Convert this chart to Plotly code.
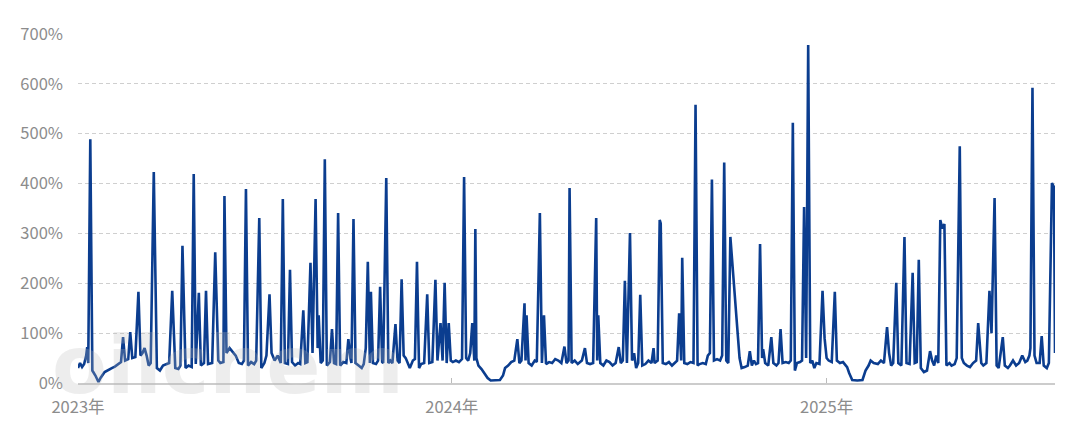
import plotly.graph_objects as go

dates = [
    # 2023
    "2023-01-01", "2023-01-03", "2023-01-05", "2023-01-07", "2023-01-09", "2023-01-10", "2023-01-11",
    "2023-01-13", "2023-01-15", "2023-01-18", "2023-01-21", "2023-01-23", "2023-01-27", "2023-01-30",
    "2023-02-03", "2023-02-06", "2023-02-09", "2023-02-12", "2023-02-14", "2023-02-16", "2023-02-19",
    "2023-02-21", "2023-02-23", "2023-02-26", "2023-03-01", "2023-03-03", "2023-03-05", "2023-03-07",
    "2023-03-09", "2023-03-11", "2023-03-13", "2023-03-16", "2023-03-19", "2023-03-22", "2023-03-25",
    "2023-03-28", "2023-03-31", "2023-04-03", "2023-04-06", "2023-04-09", "2023-04-11", "2023-04-13",
    "2023-04-16", "2023-04-19", "2023-04-22", "2023-04-24", "2023-04-26", "2023-04-29", "2023-05-01",
    "2023-05-04", "2023-05-06", "2023-05-08", "2023-05-12", "2023-05-15", "2023-05-18", "2023-05-20",
    "2023-05-23", "2023-05-24", "2023-05-26", "2023-05-29", "2023-06-01", "2023-06-04", "2023-06-07",
    "2023-06-10", "2023-06-12", "2023-06-14", "2023-06-16", "2023-06-19", "2023-06-22", "2023-06-24",
    "2023-06-27", "2023-06-29", "2023-07-02", "2023-07-04", "2023-07-07", "2023-07-09", "2023-07-12",
    "2023-07-15", "2023-07-18", "2023-07-20", "2023-07-22", "2023-07-25", "2023-07-27", "2023-07-29",
    "2023-08-01", "2023-08-04", "2023-08-06", "2023-08-09", "2023-08-11", "2023-08-13", "2023-08-16",
    "2023-08-18", "2023-08-21", "2023-08-23", "2023-08-24", "2023-08-26", "2023-08-28", "2023-08-30",
    "2023-09-01", "2023-09-04", "2023-09-06", "2023-09-08", "2023-09-10", "2023-09-12", "2023-09-14",
    "2023-09-17", "2023-09-20", "2023-09-22", "2023-09-24", "2023-09-25", "2023-09-27", "2023-09-29",
    "2023-10-02", "2023-10-05", "2023-10-07", "2023-10-09", "2023-10-11", "2023-10-13", "2023-10-14",
    "2023-10-16", "2023-10-19", "2023-10-21", "2023-10-23", "2023-10-25", "2023-10-26", "2023-10-29",
    "2023-10-31", "2023-11-02", "2023-11-04", "2023-11-07", "2023-11-09", "2023-11-11", "2023-11-13",
    "2023-11-15", "2023-11-17", "2023-11-19", "2023-11-21", "2023-11-24", "2023-11-26", "2023-11-28",
    "2023-11-30", "2023-12-02", "2023-12-05", "2023-12-08", "2023-12-10", "2023-12-13", "2023-12-16",
    "2023-12-18", "2023-12-21", "2023-12-23", "2023-12-25", "2023-12-27", "2023-12-29", "2023-12-31",
    # 2024
    "2024-01-02", "2024-01-05", "2024-01-08", "2024-01-11", "2024-01-13", "2024-01-15", "2024-01-17",
    "2024-01-19", "2024-01-21", "2024-01-23", "2024-01-24", "2024-01-25", "2024-01-27", "2024-01-30",
    "2024-02-02", "2024-02-05", "2024-02-08", "2024-02-13", "2024-02-17", "2024-02-20", "2024-02-22",
    "2024-02-25", "2024-02-28", "2024-03-02", "2024-03-05", "2024-03-07", "2024-03-09", "2024-03-12",
    "2024-03-13", "2024-03-14", "2024-03-16", "2024-03-19", "2024-03-22", "2024-03-24", "2024-03-27",
    "2024-03-29", "2024-03-31", "2024-04-02", "2024-04-05", "2024-04-08", "2024-04-11", "2024-04-14",
    "2024-04-17", "2024-04-20", "2024-04-22", "2024-04-24", "2024-04-25", "2024-04-27", "2024-04-30",
    "2024-05-03", "2024-05-07", "2024-05-10", "2024-05-12", "2024-05-15", "2024-05-18", "2024-05-21",
    "2024-05-22", "2024-05-23", "2024-05-25", "2024-05-28", "2024-05-31", "2024-06-03", "2024-06-06",
    "2024-06-09", "2024-06-12", "2024-06-14", "2024-06-16", "2024-06-18", "2024-06-20", "2024-06-23",
    "2024-06-25", "2024-06-27", "2024-06-29", "2024-07-01", "2024-07-03", "2024-07-05", "2024-07-08",
    "2024-07-11", "2024-07-14", "2024-07-16", "2024-07-17", "2024-07-20", "2024-07-22", "2024-07-23",
    "2024-07-25", "2024-07-28", "2024-07-31", "2024-08-03", "2024-08-06", "2024-08-08", "2024-08-10",
    "2024-08-12", "2024-08-13", "2024-08-15", "2024-08-18", "2024-08-21", "2024-08-24", "2024-08-26",
    "2024-08-28", "2024-08-30", "2024-09-02", "2024-09-05", "2024-09-07", "2024-09-09", "2024-09-11",
    "2024-09-13", "2024-09-16", "2024-09-19", "2024-09-21", "2024-09-23", "2024-09-25", "2024-09-27",
    "2024-09-29", "2024-10-02", "2024-10-05", "2024-10-08", "2024-10-10", "2024-10-13", "2024-10-16",
    "2024-10-18", "2024-10-20", "2024-10-22", "2024-10-24", "2024-10-26", "2024-10-28", "2024-10-30",
    "2024-10-31", "2024-11-02", "2024-11-05", "2024-11-08", "2024-11-10", "2024-11-13", "2024-11-15",
    "2024-11-17", "2024-11-19", "2024-11-22", "2024-11-25", "2024-11-27", "2024-11-29", "2024-12-01",
    "2024-12-03", "2024-12-06", "2024-12-08", "2024-12-10", "2024-12-12", "2024-12-14", "2024-12-16",
    "2024-12-18", "2024-12-20", "2024-12-22", "2024-12-25", "2024-12-28", "2024-12-30",
    # 2025
    "2025-01-01", "2025-01-03", "2025-01-06", "2025-01-09", "2025-01-11", "2025-01-14", "2025-01-17",
    "2025-01-20", "2025-01-21", "2025-01-23", "2025-01-26", "2025-01-31", "2025-02-05", "2025-02-08",
    "2025-02-11", "2025-02-13", "2025-02-16", "2025-02-20", "2025-02-23", "2025-02-26", "2025-03-01",
    "2025-03-03", "2025-03-05", "2025-03-07", "2025-03-10", "2025-03-12", "2025-03-15", "2025-03-18",
    "2025-03-20", "2025-03-23", "2025-03-26", "2025-03-28", "2025-03-30", "2025-04-01", "2025-04-03",
    "2025-04-06", "2025-04-09", "2025-04-12", "2025-04-14", "2025-04-16", "2025-04-18", "2025-04-20",
    "2025-04-22", "2025-04-24", "2025-04-26", "2025-04-28", "2025-05-01", "2025-05-03", "2025-05-06",
    "2025-05-08", "2025-05-11", "2025-05-13", "2025-05-15", "2025-05-18", "2025-05-21", "2025-05-24",
    "2025-05-27", "2025-05-29", "2025-06-01", "2025-06-03", "2025-06-06", "2025-06-09", "2025-06-11",
    "2025-06-14", "2025-06-16", "2025-06-18", "2025-06-22", "2025-06-24", "2025-06-27", "2025-06-29",
    "2025-07-02", "2025-07-05", "2025-07-08", "2025-07-11", "2025-07-14", "2025-07-16", "2025-07-18",
    "2025-07-19", "2025-07-21", "2025-07-23", "2025-07-25", "2025-07-28", "2025-07-30", "2025-08-01",
    "2025-08-04", "2025-08-06", "2025-08-09", "2025-08-11", "2025-08-12",
]

values = [
    # 2023
    30, 40, 32, 38, 55, 72, 40,
    489, 25, 15, 2, 10, 22, 26,
    30, 33, 38, 42, 92, 45, 48,
    102, 50, 52, 183, 55, 60, 70,
    55, 35, 40, 423, 30, 25, 35,
    38, 40, 185, 30, 28, 35, 275,
    30, 35, 32, 419, 38, 181, 35,
    40, 185, 38, 40, 262, 45, 40,
    42, 375, 60, 70, 62, 55, 40,
    38, 45, 389, 35, 42, 38, 45,
    331, 30, 40, 55, 178, 60, 45,
    55, 40, 369, 40, 38, 227, 42,
    35, 40, 38, 146, 40, 42, 241,
    60, 369, 70, 136, 40, 45, 449,
    35, 42, 108, 40, 38, 341, 35,
    42, 40, 88, 50, 40, 329, 40,
    35, 30, 38, 70, 243, 40, 183,
    40, 38, 45, 193, 42, 40, 411,
    40, 45, 40, 118, 45, 40, 208,
    55, 50, 40, 30, 45, 48, 243,
    30, 38, 40, 178, 40, 42, 207,
    45, 120, 45, 201, 40, 120, 45,
    # 2024
    42, 45, 42, 48, 413, 50, 45,
    60, 120, 45, 309, 50, 35, 28,
    18, 10, 5, 5, 6, 15, 30,
    35, 42, 45, 88, 40, 45, 160,
    45, 136, 40, 35, 45, 42, 341,
    40, 136, 38, 42, 40, 48, 45,
    40, 73, 40, 45, 391, 40, 45,
    38, 45, 70, 40, 38, 40, 331,
    45, 136, 40, 35, 45, 42, 35,
    40, 72, 40, 45, 205, 40, 301,
    45, 60, 30, 40, 177, 35, 38,
    45, 40, 70, 40, 45, 327, 320,
    40, 38, 42, 35, 40, 45, 140,
    45, 251, 40, 38, 42, 40, 558,
    35, 38, 40, 38, 55, 60, 408,
    45, 48, 45, 55, 442, 45, 40,
    293, 220, 130, 50, 30, 32, 35,
    64, 35, 45, 38, 40, 279, 50,
    68, 40, 35, 92, 40, 35, 40,
    108, 40, 42, 40, 45, 522, 25,
    40, 42, 45, 353, 50, 678, 40,
    45, 30, 40, 38, 185, 90,
    # 2025
    50, 45, 42, 183, 45, 40, 42,
    35, 32, 20, 6, 5, 6, 25,
    35, 45, 40, 38, 45, 40, 112,
    60, 35, 40, 201, 40, 35, 293,
    40, 38, 221, 40, 42, 247, 30,
    22, 25, 64, 45, 35, 55, 40,
    327, 310, 319, 35, 40, 35, 38,
    50, 475, 50, 40, 35, 32, 40,
    45, 120, 40, 35, 40, 185, 100,
    371, 35, 30, 92, 35, 30, 35,
    45, 35, 40, 55, 42, 45, 55,
    70, 592, 55, 40, 40, 94, 35,
    30, 40, 401, 393, 60,
]

tick_dates = ["2023-01-01", "2024-01-01", "2025-01-01"]
tick_labels = ["2023年", "2024年", "2025年"]
y_ticks = [0, 100, 200, 300, 400, 500, 600, 700]
y_labels = ["0%", "100%", "200%", "300%", "400%", "500%", "600%", "700%"]

fig = go.Figure()
fig.add_trace(go.Scatter(
    x=dates, y=values, mode="lines",
    line=dict(color="#0b3d8f", width=2.6),
    hoverinfo="skip", showlegend=False,
))

# faint watermark in the lower-left corner
fig.add_annotation(
    text="<b>oilchem</b>", xref="paper", yref="paper", x=-0.029, y=-0.09,
    xanchor="left", yanchor="bottom", showarrow=False,
    font=dict(family="DejaVu Sans", size=80, color="rgba(185,185,185,0.26)"),
)

# page body has an 8px default margin, so the figure is sized to fit the window
fig.update_layout(
    width=1072, height=422,
    margin=dict(l=70, r=25, t=26, b=47, autoexpand=False),
    paper_bgcolor="white", plot_bgcolor="white",
    font=dict(family="Noto Sans CJK SC", color="#8c8c8c", size=16),
)
fig.update_xaxes(
    range=["2023-01-01", "2025-08-12"],
    tickvals=tick_dates, ticktext=tick_labels,
    showgrid=False, zeroline=False, automargin=False,
    showline=True, linecolor="#cccccc", linewidth=1.5,
    ticks="inside", ticklen=5, tickcolor="#bbbbbb",
    ticklabelstandoff=8,
    tickfont=dict(size=16.5, color="#8c8c8c"),
)
fig.update_yaxes(
    range=[0, 700], tickvals=y_ticks, ticktext=y_labels,
    showgrid=True, gridcolor="#cfcfcf", griddash="4px,3px", gridwidth=1,
    zeroline=False, showline=False, automargin=False,
    ticklabelstandoff=14,
    tickfont=dict(size=16.5, color="#8c8c8c"),
)

fig.write_html("out.html", config={"displayModeBar": False})
